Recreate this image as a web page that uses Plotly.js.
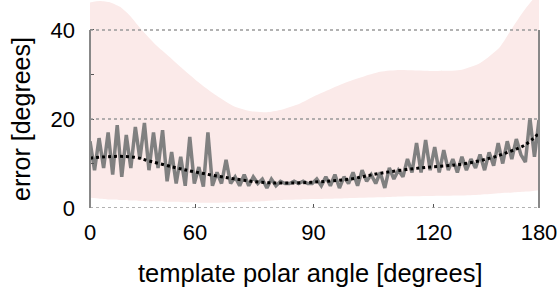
<!DOCTYPE html>
<html>
<head>
<meta charset="utf-8">
<script src="https://cdn.plot.ly/plotly-3.0.1.min.js"></script>
<style>html,body{margin:0;padding:0;background:#fff;}#chart{width:560px;height:288px;}</style>
</head>
<body>
<div id="chart"></div>
<script>
// x positions are fractions of the axis width (axis is non-linear in angle)
const tickPos = [0, 0.234, 0.498, 0.766, 1];
const tickLabels = ['0', '60', '90', '120', '180'];

// shaded band (upper / lower bound)
const bandX = [0, 0.022, 0.045, 0.067, 0.089, 0.111, 0.145, 0.171, 0.212, 0.245, 0.278, 0.318, 0.356, 0.394, 0.423, 0.468, 0.497, 0.573, 0.646, 0.69, 0.757, 0.824, 0.869, 0.913, 0.942, 0.973, 1];
const bandUpper = [46.2, 46.5, 46.2, 45.2, 43.2, 40.5, 36.8, 34.5, 30.8, 28.0, 25.5, 23.0, 21.8, 21.5, 22.0, 23.5, 25.0, 28.3, 30.6, 31.0, 30.8, 31.0, 32.6, 36.2, 40.7, 45.2, 48.5];
const bandLower = [2.3, 2.1, 1.9, 1.8, 1.7, 1.6, 1.5, 1.4, 1.3, 1.2, 1.2, 1.3, 1.4, 1.6, 1.8, 1.9, 2.0, 2.2, 2.4, 2.6, 2.7, 2.8, 3.0, 3.3, 3.5, 3.7, 4.0];

// noisy measured error (grey), sampled evenly across the axis
const greyErr = [15, 8.5, 15.7, 9, 17, 7.5, 18.6, 7, 16.4, 9, 18.2, 11, 19.1, 8.5, 17, 9,
  17.5, 6, 12.6, 5.5, 11.5, 5, 16, 5.5, 9.2, 4.8, 17, 5, 8, 5.5, 10.8, 5.5,
  7, 5, 7.5, 5, 7, 5.5, 6.5, 4.5, 6.5, 5, 6, 5.5, 5.5, 6, 5.5, 6,
  5.5, 5.5, 6.5, 5, 7, 5, 7.5, 4.5, 7, 5.5, 8, 5, 8.5, 6, 7.5, 5.5,
  8, 4.5, 9, 6.5, 8.5, 7, 11, 8, 14.6, 8, 15.3, 8.5, 13.7, 8, 13, 8.5,
  11, 8, 11.5, 8.5, 11, 9, 12, 8.5, 12.5, 9.5, 14.6, 10, 15, 11, 15.5, 12,
  10.3, 20.2, 11.5, 19.8];

// smooth model curve (black dotted)
const meanX = [0, 0.056, 0.1, 0.134, 0.189, 0.234, 0.312, 0.379, 0.445, 0.512, 0.579, 0.646, 0.735, 0.824, 0.891, 0.935, 0.969, 1];
const meanErr = [11.2, 11.6, 11.4, 10.5, 9.1, 8.1, 6.7, 5.8, 5.6, 5.9, 6.5, 7.8, 9.0, 9.8, 11.2, 12.7, 14.2, 16.8];

const greyX = greyErr.map((_, i) => i / (greyErr.length - 1));

const fontFam = 'Liberation Sans, Arial, Helvetica, sans-serif';
const traces = [
  {x: bandX, y: bandLower, type: 'scatter', mode: 'lines', line: {width: 0, shape: 'spline', smoothing: 0.6}, hoverinfo: 'skip', showlegend: false},
  {x: bandX, y: bandUpper, type: 'scatter', mode: 'lines', fill: 'tonexty', fillcolor: 'rgb(251,234,233)', line: {width: 0, shape: 'spline', smoothing: 0.6}, hoverinfo: 'skip', showlegend: false},
  {x: greyX, y: greyErr, type: 'scatter', mode: 'lines', line: {color: 'rgb(128,128,128)', width: 3.5}, showlegend: false},
  {x: meanX, y: meanErr, type: 'scatter', mode: 'lines', line: {color: '#000', width: 3, dash: 'dot', shape: 'spline'}, showlegend: false}
];

const grid = [0, 20, 40].map(v => ({type: 'line', xref: 'paper', yref: 'y', x0: 0, x1: 1, y0: v, y1: v, layer: 'above', line: {color: '#999', width: 1.5, dash: 'dot'}}));
const sides = [0, 1].map(p => ({type: 'line', xref: 'paper', yref: 'y', x0: p, x1: p, y0: 0, y1: 40, layer: 'above', line: {color: '#888', width: 2}}));

const layout = {
  width: 560, height: 288,
  margin: {l: 90, r: 21, t: 0, b: 80},
  paper_bgcolor: '#fff', plot_bgcolor: '#fff',
  font: {family: fontFam, size: 22, color: '#000'},
  xaxis: {range: [0, 1], tickvals: tickPos, ticktext: tickLabels, ticks: 'inside', ticklen: 4, tickcolor: '#555', tickwidth: 1,
    showgrid: false, zeroline: false, showline: false, ticklabelstandoff: 9, fixedrange: true},
  yaxis: {range: [0, 46.74], tickvals: [0, 10, 20, 30, 40], ticktext: ['0', '', '20', '', '40'], ticks: 'inside', ticklen: 4, tickcolor: '#555', tickwidth: 1,
    showgrid: false, zeroline: false, showline: false, ticklabelstandoff: 14, fixedrange: true},
  shapes: grid.concat(sides),
  annotations: [
    {text: 'error [degrees]', textangle: -90, xref: 'paper', yref: 'y', x: 0, y: 20, xanchor: 'center', yanchor: 'middle', xshift: -69, showarrow: false, font: {size: 25, family: fontFam, color: '#000'}},
    {text: 'template polar angle [degrees]', xref: 'paper', yref: 'paper', x: 0.5, y: 0, xanchor: 'center', yanchor: 'middle', xshift: -5, yshift: -65, showarrow: false, font: {size: 25.5, family: fontFam, color: '#000'}}
  ]
};
Plotly.newPlot('chart', traces, layout, {displayModeBar: false, staticPlot: true});
</script>
</body>
</html>
